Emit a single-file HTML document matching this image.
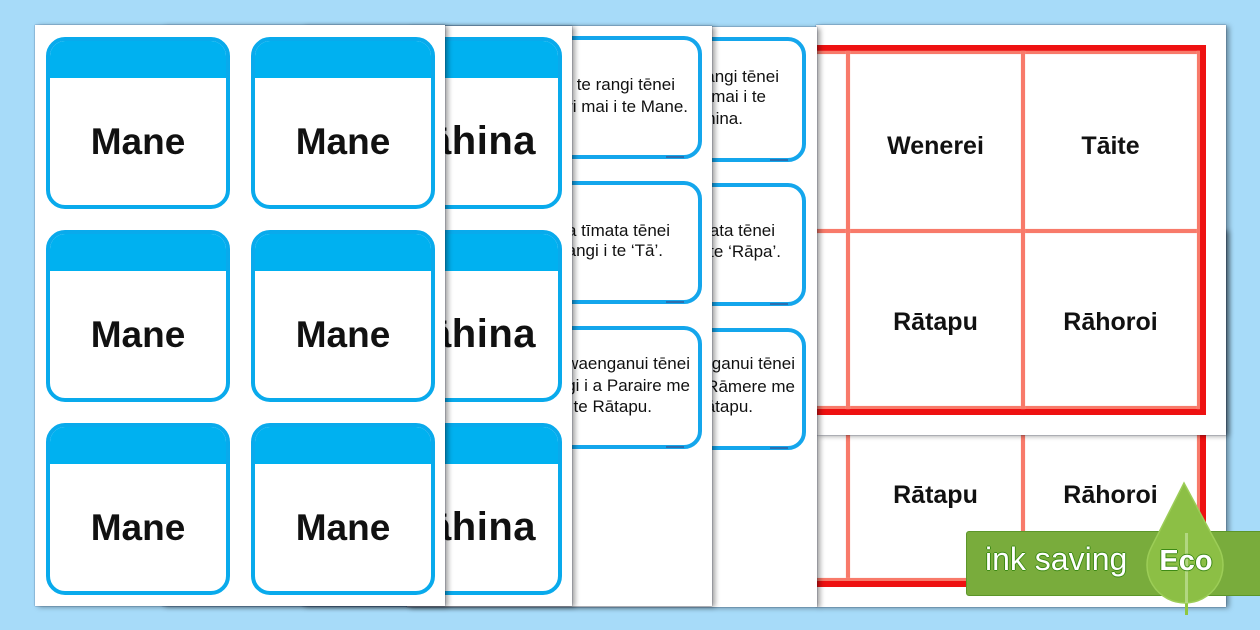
<!DOCTYPE html>
<html><head><meta charset="utf-8"><style>
*{margin:0;padding:0;box-sizing:border-box}
html,body{width:1260px;height:630px;overflow:hidden;background:#a7dbf9;font-family:"Liberation Sans",sans-serif}
.sheet{position:absolute;background:#fff;overflow:hidden;box-shadow:3px 1px 5px rgba(0,0,0,.38),0 0 1px rgba(10,30,80,.7)}
.in{position:absolute;width:1260px;height:630px}
.card{position:absolute;width:184px;height:172px;border:4px solid #09aaec;border-radius:19px;background:#fff;overflow:hidden}
.card .hd{position:absolute;left:0;top:0;right:0;height:37px;background:#00b1f0}
.card .t{position:absolute;left:0;right:0;top:37px;bottom:0;display:flex;align-items:center;justify-content:center;font-weight:bold;font-size:37px;color:#111}
.card .ft,.tc .ft{position:absolute;right:14px;bottom:-3px;width:18px;height:2px;background:#2a6fb0}
.big{position:absolute;font-weight:bold;font-size:40px;line-height:44px;letter-spacing:0.5px;color:#111;white-space:nowrap}
.tc{position:absolute;width:184px;border:4px solid #14a6ec;border-radius:18px;background:#fff}
.ln{position:absolute;font-size:17px;line-height:22px;color:#111;white-space:nowrap}
.rl{position:absolute;background:#ee1111}
.sl{position:absolute;background:#f87a6a;box-shadow:0 0 1px #fcb5aa}
.cell{position:absolute;width:171px;text-align:center;font-weight:bold;font-size:25px;line-height:30px;color:#111;white-space:nowrap}
</style></head><body>

<!-- Sheet 6 (bottom right) -->
<div class="sheet" style="left:816px;top:230px;width:410px;height:377px;z-index:1">
<div class="in" style="left:-816px;top:-230px">
  <div class="sl" style="left:846px;top:230px;width:4px;height:351px"></div>
  <div class="sl" style="left:1021px;top:230px;width:4px;height:351px"></div>
  <div class="sl" style="left:1197px;top:230px;width:3px;height:351px"></div>
  <div class="rl" style="left:1200px;top:230px;width:6px;height:357px"></div>
  <div class="sl" style="left:662px;top:578px;width:538px;height:3px"></div>
  <div class="rl" style="left:662px;top:581px;width:544px;height:6px"></div>
  <div class="cell" style="left:850px;top:480px">Rātapu</div>
  <div class="cell" style="left:1025px;top:480px">Rāhoroi</div>
</div></div>

<!-- Sheet 5 (red table) -->
<div class="sheet" style="left:816px;top:25px;width:410px;height:410px;z-index:2">
<div class="in" style="left:-816px;top:-25px">
  <div class="rl" style="left:662px;top:45px;width:544px;height:6px"></div>
  <div class="sl" style="left:662px;top:51px;width:538px;height:3px"></div>
  <div class="sl" style="left:662px;top:229px;width:538px;height:4px"></div>
  <div class="sl" style="left:662px;top:406px;width:538px;height:3px"></div>
  <div class="rl" style="left:662px;top:409px;width:544px;height:6px"></div>
  <div class="sl" style="left:846px;top:51px;width:4px;height:358px"></div>
  <div class="sl" style="left:1021px;top:51px;width:4px;height:358px"></div>
  <div class="sl" style="left:1197px;top:51px;width:3px;height:358px"></div>
  <div class="rl" style="left:1200px;top:45px;width:6px;height:370px"></div>
  <div class="cell" style="left:850px;top:131px">Wenerei</div>
  <div class="cell" style="left:1025px;top:131px">Tāite</div>
  <div class="cell" style="left:850px;top:307px">Rātapu</div>
  <div class="cell" style="left:1025px;top:307px">Rāhoroi</div>
</div></div>

<!-- Sheet 4 -->
<div class="sheet" style="left:407px;top:27px;width:410px;height:580px;z-index:3">
<div class="in" style="left:-407px;top:-27px">
  <div class="tc" style="left:622px;top:37px;height:125px"><div class="ft"></div></div>
  <div class="tc" style="left:622px;top:183px;height:123px"><div class="ft"></div></div>
  <div class="tc" style="left:622px;top:328px;height:122px"><div class="ft"></div></div>
  <div class="ln" style="right:481px;top:66px">Ko te rangi tēnei</div>
  <div class="ln" style="right:494px;top:86px">i muri mai i te</div>
  <div class="ln" style="right:517px;top:108px">Rāhina.</div>
  <div class="ln" style="right:485px;top:220px">Ka tīmata tēnei</div>
  <div class="ln" style="right:479px;top:241px">rangi i te ‘Rāpa’.</div>
  <div class="ln" style="right:465px;top:353px">Kei waenganui tēnei</div>
  <div class="ln" style="right:465px;top:376px">rangi i a Rāmere me</div>
  <div class="ln" style="right:507px;top:396px">Rātapu.</div>
</div></div>

<!-- Sheet 3 -->
<div class="sheet" style="left:302px;top:26px;width:410px;height:580px;z-index:4">
<div class="in" style="left:-302px;top:-26px">
  <div class="tc" style="left:518px;top:36px;height:123px"><div class="ft"></div></div>
  <div class="tc" style="left:518px;top:181px;height:123px"><div class="ft"></div></div>
  <div class="tc" style="left:518px;top:326px;height:123px"><div class="ft"></div></div>
  <div class="ln" style="right:585px;top:74px">Ko te rangi tēnei</div>
  <div class="ln" style="right:572px;top:96px">i muri mai i te Mane.</div>
  <div class="ln" style="right:590px;top:220px">Ka tīmata tēnei</div>
  <div class="ln" style="right:597px;top:240px">rangi i te ‘Tā’.</div>
  <div class="ln" style="right:570px;top:353px">Kei waenganui tēnei</div>
  <div class="ln" style="right:570px;top:375px">rangi i a Paraire me</div>
  <div class="ln" style="right:608px;top:396px">te Rātapu.</div>
</div></div>

<!-- Sheet 2 -->
<div class="sheet" style="left:162px;top:26px;width:410px;height:580px;z-index:5">
<div class="in" style="left:-162px;top:-26px">
  <div class="card" style="left:378px;top:37px"><div class="hd"></div><div class="ft"></div></div>
  <div class="card" style="left:378px;top:230px"><div class="hd"></div><div class="ft"></div></div>
  <div class="card" style="left:378px;top:423px"><div class="hd"></div><div class="ft"></div></div>
  <div class="big" style="right:724px;top:119px">Rāhina</div>
  <div class="big" style="right:724px;top:312px">Rāhina</div>
  <div class="big" style="right:724px;top:505px">Rāhina</div>
</div></div>

<!-- Sheet 1 -->
<div class="sheet" style="left:35px;top:25px;width:410px;height:581px;z-index:6">
<div class="in" style="left:-35px;top:-25px">
  <div class="card" style="left:46px;top:37px"><div class="hd"></div><div class="t">Mane</div><div class="ft"></div></div>
  <div class="card" style="left:251px;top:37px"><div class="hd"></div><div class="t">Mane</div><div class="ft"></div></div>
  <div class="card" style="left:46px;top:230px"><div class="hd"></div><div class="t">Mane</div><div class="ft"></div></div>
  <div class="card" style="left:251px;top:230px"><div class="hd"></div><div class="t">Mane</div><div class="ft"></div></div>
  <div class="card" style="left:46px;top:423px"><div class="hd"></div><div class="t">Mane</div><div class="ft"></div></div>
  <div class="card" style="left:251px;top:423px"><div class="hd"></div><div class="t">Mane</div><div class="ft"></div></div>
</div></div>

<!-- Eco badge -->
<div style="position:absolute;left:966px;top:531px;width:300px;height:65px;background:#79ac3c;border:1px solid #5c9629;border-radius:3px;z-index:10"></div>
<div style="position:absolute;left:985px;top:539px;font-size:32px;line-height:40px;color:#fff;white-space:nowrap;z-index:11;text-shadow:1px 0 0 #3d8a14,-1px 0 0 #3d8a14,0 1px 0 #3d8a14,0 -1px 0 #3d8a14">ink saving</div>
<svg style="position:absolute;left:0;top:0;z-index:12" width="1260" height="630" viewBox="0 0 1260 630">
  <rect x="1185" y="600" width="3" height="15" fill="#8fc63f"/>
  <path d="M1184 483 L1218.7 547.4 A38 38 0 1 1 1151.3 547.4 Z" fill="#8cbf45" stroke="#9ccd57" stroke-width="1.5"/>
  <rect x="1185" y="533" width="3" height="70" fill="#b8db8c" opacity="0.85"/>
</svg>
<div style="position:absolute;left:1136px;top:544px;width:100px;text-align:center;font-weight:bold;font-size:29px;line-height:34px;color:#fff;z-index:13;text-shadow:1px 0 0 #3d8a14,-1px 0 0 #3d8a14,0 1px 0 #3d8a14,0 -1px 0 #3d8a14">Eco</div>

</body></html>
